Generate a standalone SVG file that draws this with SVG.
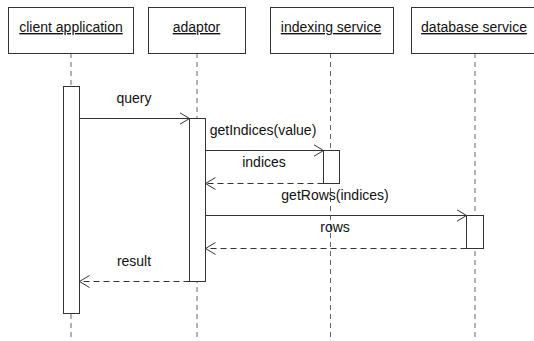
<svg xmlns="http://www.w3.org/2000/svg" width="534" height="341" viewBox="0 0 534 341">
<style>
text{font-family:"Liberation Sans",Arial,sans-serif;font-size:14px;fill:#111}
.name{text-anchor:middle;text-decoration:underline}
.lbl{text-anchor:middle}
.box{fill:#fff;stroke:#333;stroke-width:1}
.life{stroke:#666;stroke-width:1;stroke-dasharray:5 4;fill:none}
.act{fill:#fff;stroke:#333;stroke-width:1}
.msg{stroke:#333;stroke-width:1;fill:none}
.ret{stroke:#333;stroke-width:1;fill:none;stroke-dasharray:6 4}
</style>
<defs>
<marker id="arr" markerWidth="12" markerHeight="14" refX="10" refY="7" orient="auto" markerUnits="userSpaceOnUse">
<path d="M0,1 L10,7 L0,13" fill="none" stroke="#333" stroke-width="1"/>
</marker>
</defs>
<rect width="534" height="341" fill="#fff"/>
<g id="lifelines">
<line class="life" x1="71" y1="53" x2="71" y2="341"/>
<line class="life" x1="197" y1="53" x2="197" y2="341"/>
<line class="life" x1="330.5" y1="53" x2="330.5" y2="341"/>
<line class="life" x1="475" y1="53" x2="475" y2="341"/>
</g>
<g id="client">
<rect class="box" x="8.5" y="7.5" width="125" height="46"/>
<text class="name" x="71" y="32">client application</text>
<rect class="act" x="63.5" y="86.5" width="16" height="227"/>
</g>
<g id="adaptor">
<rect class="box" x="148.5" y="7.5" width="97" height="46"/>
<text class="name" x="196.5" y="32">adaptor</text>
<rect class="act" x="189.5" y="118.5" width="16" height="163"/>
</g>
<g id="indexing">
<rect class="box" x="270.5" y="7.5" width="123" height="46"/>
<text class="name" x="331" y="32">indexing service</text>
<rect class="act" x="323.5" y="150.5" width="16" height="33"/>
</g>
<g id="database">
<rect class="box" x="411.5" y="7.5" width="128" height="46"/>
<text class="name" x="474" y="32">database service</text>
<rect class="act" x="466.5" y="215.5" width="17" height="33"/>
</g>
<g id="connectors">
<line class="msg" x1="79.5" y1="118.5" x2="189.5" y2="118.5" marker-end="url(#arr)"/>
<text class="lbl" x="134" y="103">query</text>
<line class="msg" x1="205.5" y1="150.5" x2="323.5" y2="150.5" marker-end="url(#arr)"/>
<text class="lbl" x="263" y="135">getIndices(value)</text>
<line class="ret" x1="323.5" y1="183.5" x2="205.5" y2="183.5" marker-end="url(#arr)"/>
<text class="lbl" x="264" y="167">indices</text>
<line class="msg" x1="205.5" y1="215.5" x2="466.5" y2="215.5" marker-end="url(#arr)"/>
<text class="lbl" x="335" y="200">getRows(indices)</text>
<line class="ret" x1="466.5" y1="248.5" x2="205.5" y2="248.5" marker-end="url(#arr)"/>
<text class="lbl" x="335" y="232">rows</text>
<line class="ret" x1="189.5" y1="281.5" x2="79.5" y2="281.5" marker-end="url(#arr)"/>
<text class="lbl" x="134" y="266">result</text>
</g>
</svg>
